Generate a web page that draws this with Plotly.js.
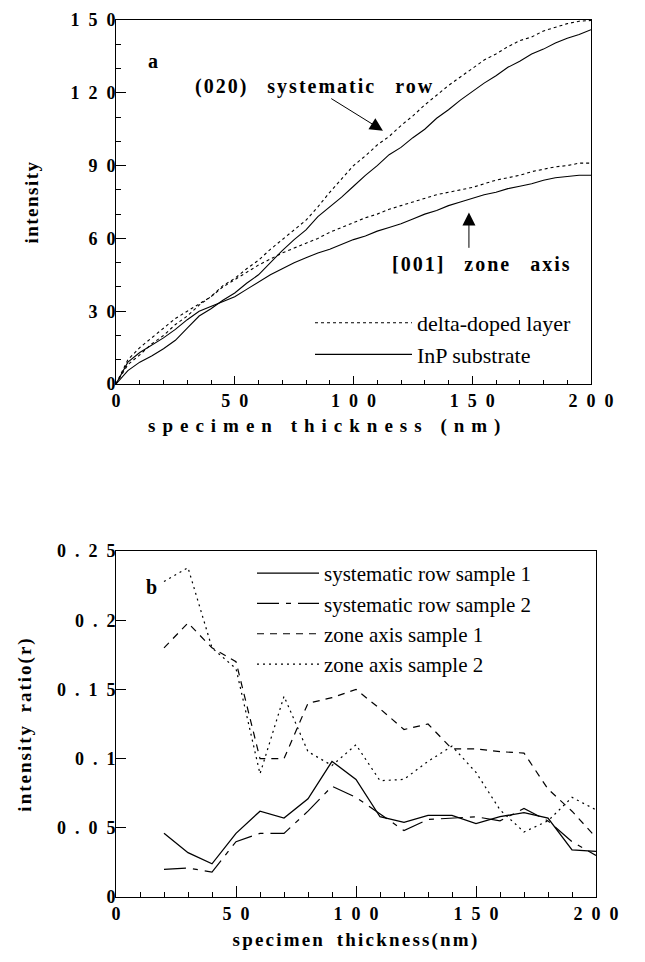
<!DOCTYPE html>
<html><head><meta charset="utf-8">
<script src="https://cdn.plot.ly/plotly-3.0.1.min.js"></script>
<style>
html,body{margin:0;padding:0;background:#fff;}
#chart{width:645px;height:962px;}
.x2title{letter-spacing:2.2px;}
.ytitle{letter-spacing:1.5px;}
.y2title{letter-spacing:2px;}
.annotation-text{letter-spacing:2px;}
</style></head><body><div id="chart"></div>
<script>
// ---- panel a: intensity vs specimen thickness ----
const thickness = [0,5,10,15,20,25,30,35,40,45,50,55,60,65,70,75,80,85,90,95,100,
  105,110,115,120,125,130,135,140,145,150,155,160,165,170,175,180,185,190,195,200];
const sysRowDelta = [0,8,12,16.5,20,24.5,28,32.5,36,40.5,43.5,47.5,51,55.5,59.5,63.5,67.5,73,79,84.5,90,
  94,98.5,102,106.5,110.5,115,119,123,126.5,130,133.5,136,139,141.5,143,145.5,147,148.5,149.5,149.8];
const sysRowInP = [0,5.5,9,11.5,14.5,18,23,28,31,34.5,37.5,41.5,45,50,55,59.5,63.5,69,73,77,81.5,
  86,90,94.5,97.5,101.5,105,109.5,113,117,120.5,124,127,130.5,133,136,138,140.5,142.5,144,146];
const zoneAxisDelta = [0,10,15,19,23,27,30,33,36,40,43,46,49,51.5,54,56,58,60,62.5,64.5,66.5,
  68.5,70,72,73.5,75,76.5,78,79,80,81,82.5,84,85,86,87.5,88.5,89.5,90,91,91];
const zoneAxisInP = [0,9,13,16,19,22.5,26.5,30,32,34,36,39,42,45,47.5,50,52,54,55.5,57.5,59.5,
  61,63,64.5,66,68,70,71.5,73.5,75,76.5,78,79,80.5,81.5,82.5,84,85,85.5,86,86];

// ---- panel b: intensity ratio vs specimen thickness ----
const ratioThickness = [20,30,40,50,60,70,80,90,100,110,120,130,140,150,160,170,180,190,200];
const sysRowSample1 = [0.046,0.032,0.024,0.046,0.062,0.057,0.071,0.098,0.085,0.058,0.054,0.059,0.059,0.053,0.058,0.061,0.057,0.034,0.033];
const sysRowSample2 = [0.020,0.021,0.018,0.040,0.046,0.046,0.062,0.080,0.072,0.060,0.048,0.056,0.057,0.058,0.055,0.064,0.055,0.040,0.030];
const zoneAxisSample1 = [0.180,0.198,0.180,0.170,0.100,0.100,0.140,0.144,0.150,0.136,0.121,0.125,0.107,0.107,0.105,0.104,0.078,0.062,0.043];
const zoneAxisSample2 = [0.228,0.238,0.180,0.165,0.089,0.145,0.105,0.095,0.110,0.084,0.085,0.098,0.109,0.090,0.063,0.047,0.055,0.072,0.063];

// ---- tick labels ----
const topXTickVals = [0,50,100,150,200];
const topXTickText = ['0','50','100','150','200'];
const topYTickVals = [0,30,60,90,120,150];
const topYTickText = ['0','30','60','90','120','150'];
const botXTickVals = [0,50,100,150,200];
const botXTickText = ['0','50','100','150','200'];
const botYTickVals = [0,0.05,0.1,0.15,0.2,0.25];
const botYTickText = ['0','0.05','0.1','0.15','0.2','0.25'];

const sp = s => s.split('').join('\u2002');

const serif = 'Liberation Serif, Times New Roman, serif';
const tickFont = {family: serif, size: 18, color: '#000', weight: 'bold'};
const titleFont = {family: serif, size: 19, color: '#000', weight: 'bold'};
const annFont = {family: serif, size: 20, color: '#000', weight: 'bold'};

const traces = [
  {x: thickness, y: sysRowDelta, mode: 'lines', name: 'delta-doped layer',
   line: {color: '#000', width: 1.1, dash: 'dot'}, xaxis: 'x', yaxis: 'y', legend: 'legend'},
  {x: thickness, y: sysRowInP, mode: 'lines', name: 'InP substrate',
   line: {color: '#000', width: 1.1}, xaxis: 'x', yaxis: 'y', legend: 'legend'},
  {x: thickness, y: zoneAxisDelta, mode: 'lines', name: 'delta-doped layer', showlegend: false,
   line: {color: '#000', width: 1.1, dash: 'dot'}, xaxis: 'x', yaxis: 'y'},
  {x: thickness, y: zoneAxisInP, mode: 'lines', name: 'InP substrate', showlegend: false,
   line: {color: '#000', width: 1.1}, xaxis: 'x', yaxis: 'y'},

  {x: ratioThickness, y: sysRowSample1, mode: 'lines', name: 'systematic row sample 1',
   line: {color: '#000', width: 1.3}, xaxis: 'x2', yaxis: 'y2', legend: 'legend2'},
  {x: ratioThickness, y: sysRowSample2, mode: 'lines', name: 'systematic row sample 2',
   line: {color: '#000', width: 1.2, dash: '22px,7px,5px,7px'}, xaxis: 'x2', yaxis: 'y2', legend: 'legend2'},
  {x: ratioThickness, y: zoneAxisSample1, mode: 'lines', name: 'zone axis sample 1',
   line: {color: '#000', width: 1.2, dash: '7px,6px'}, xaxis: 'x2', yaxis: 'y2', legend: 'legend2'},
  {x: ratioThickness, y: zoneAxisSample2, mode: 'lines', name: 'zone axis sample 2',
   line: {color: '#000', width: 1.2, dash: '2px,4px'}, xaxis: 'x2', yaxis: 'y2', legend: 'legend2'}
];

const W = 645, H = 962;
const axBase = {
  showline: true, linecolor: '#000', linewidth: 1, mirror: true,
  showgrid: false, zeroline: false, ticks: 'inside', tickcolor: '#000',
  tickfont: tickFont, tickmode: 'array', automargin: false
};

const layout = {
  width: W, height: H,
  margin: {l: 0, r: 0, t: 0, b: 0},
  paper_bgcolor: '#fff', plot_bgcolor: '#fff',
  xaxis: Object.assign({}, axBase, {
    domain: [116/W, 591/W], range: [0, 200], anchor: 'y',
    tickvals: topXTickVals, ticktext: topXTickText.map(sp), ticklen: 8,
    minor: {dtick: 10, ticklen: 4, ticks: 'inside', tickcolor: '#000', showgrid: false}
  }),
  yaxis: Object.assign({}, axBase, {
    domain: [(H-384)/H, (H-20)/H], range: [0, 150], anchor: 'x',
    tickvals: topYTickVals, ticktext: topYTickText.map(sp), ticklen: 10, ticklabelstandoff: -4,
    minor: {dtick: 10, ticklen: 5, ticks: 'inside', tickcolor: '#000', showgrid: false},
    title: {text: 'intensity', font: titleFont, standoff: 26}
  }),
  xaxis2: Object.assign({}, axBase, {
    domain: [116/W, 596/W], range: [0, 200], anchor: 'y2',
    tickvals: botXTickVals, ticktext: botXTickText.map(sp), ticklen: 11,
    minor: {dtick: 10, ticklen: 5, ticks: 'inside', tickcolor: '#000', showgrid: false},
    title: {text: 'specimen\u2002thickness(nm)', font: titleFont, standoff: 10}
  }),
  yaxis2: Object.assign({}, axBase, {
    domain: [(H-897)/H, (H-551)/H], range: [0, 0.25], anchor: 'x2',
    tickvals: botYTickVals, ticktext: botYTickText.map(sp), ticklen: 10, ticklabelstandoff: -4,
    title: {text: 'intensity\u2002ratio(r)', font: titleFont, standoff: 20}
  }),
  legend: {
    x: 310/W, y: (H-302)/H, xanchor: 'left', yanchor: 'top',
    font: {family: serif, size: 22, color: '#000'}, bgcolor: 'rgba(0,0,0,0)',
    itemwidth: 97, traceorder: 'normal', tracegroupgap: 0
  },
  legend2: {
    x: 252/W, y: (H-553)/H, xanchor: 'left', yanchor: 'top',
    font: {family: serif, size: 21, color: '#000'}, bgcolor: 'rgba(0,0,0,0)',
    itemwidth: 62, traceorder: 'normal', tracegroupgap: 0
  },
  annotations: [
    {xref: 'paper', yref: 'paper', x: 146/W, y: (H-426)/H, xanchor: 'left', yanchor: 'middle',
     text: '<span style="letter-spacing:7px">specimen thickness (nm)</span>', showarrow: false, font: titleFont},
    {xref: 'x', yref: 'y', x: 16, y: 133, text: 'a', showarrow: false, font: annFont},
    {xref: 'x', yref: 'y', x: 83.6, y: 122.5, text: '(020)\u2002 systematic\u2002 row', showarrow: false, font: annFont},
    {xref: 'x', yref: 'y', x: 112.4, y: 104.4, axref: 'x', ayref: 'y', ax: 90, ay: 118,
     text: '', showarrow: true, arrowhead: 2, arrowsize: 2.6, arrowwidth: 1, arrowcolor: '#000'},
    {xref: 'x', yref: 'y', x: 154.3, y: 49.3, text: '[001]\u2002 zone\u2002 axis', showarrow: false, font: annFont},
    {xref: 'x', yref: 'y', x: 148.6, y: 70.7, axref: 'x', ayref: 'y', ax: 148.6, ay: 55.5,
     text: '', showarrow: true, arrowhead: 2, arrowsize: 2.6, arrowwidth: 1, arrowcolor: '#000'},
    {xref: 'x2', yref: 'y2', x: 15.4, y: 0.224, text: 'b', showarrow: false, font: annFont}
  ]
};

Plotly.newPlot('chart', traces, layout, {displayModeBar: false, staticPlot: true});
</script></body></html>
